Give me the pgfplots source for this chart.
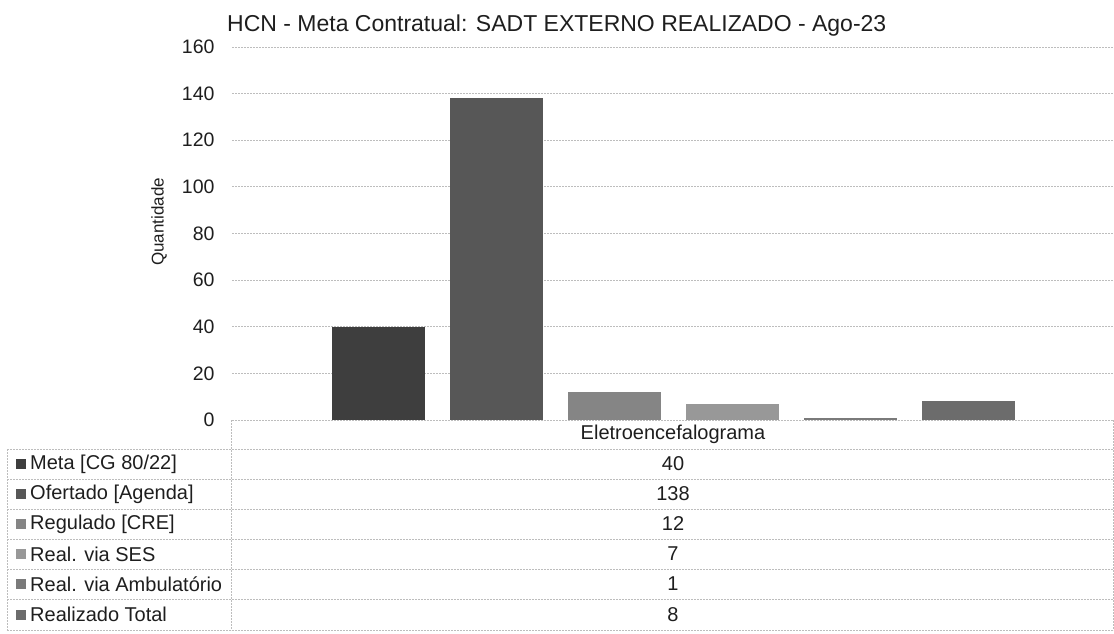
\documentclass[border=0pt]{standalone}
\usepackage{fontspec}
\setmainfont{Liberation Sans}
\usepackage{pgfplots}
\pgfplotsset{compat=1.18}

\definecolor{cMeta}{HTML}{3E3E3E}
\definecolor{cOfert}{HTML}{575757}
\definecolor{cReg}{HTML}{858585}
\definecolor{cSES}{HTML}{989898}
\definecolor{cAmb}{HTML}{7A7A7A}
\definecolor{cTot}{HTML}{6C6C6C}
\definecolor{cGrid}{HTML}{BDBDBD}
\definecolor{cInk}{HTML}{1E1E1E}

\newcommand{\tickfont}{\fontsize{19.5}{21}\selectfont}
\newcommand{\tabfont}{\fontsize{20}{22}\selectfont}

\begin{document}
\begin{tikzpicture}[x=1pt,y=1pt]
\begin{axis}[
  at={(232pt,213pt)}, anchor=south west,
  scale only axis, width=882pt, height=373pt,
  xmin=-1, xmax=1, ymin=0, ymax=160,
  ytick={0,20,...,160}, xtick=\empty,
  ymajorgrids,
  major grid style={draw=cGrid, line width=0.8pt, dash pattern=on 2pt off 1pt},
  axis line style={draw=none},
  tick style={draw=none},
  yticklabel style={font=\tickfont, text=cInk, xshift=-14pt},
  /pgf/number format/assume math mode=true,
  ybar, bar width=93pt,
  clip=false,
]
\addplot[draw=none, fill=cMeta,  bar shift=-295pt] coordinates {(0,40)};
\addplot[draw=none, fill=cOfert, bar shift=-177pt] coordinates {(0,138)};
\addplot[draw=none, fill=cReg,   bar shift=-59pt]  coordinates {(0,12)};
\addplot[draw=none, fill=cSES,   bar shift=59pt]   coordinates {(0,7)};
\addplot[draw=none, fill=cAmb,   bar shift=177pt]  coordinates {(0,1)};
\addplot[draw=none, fill=cTot,   bar shift=295pt]  coordinates {(0,8)};
\end{axis}

% title and y label
\node[anchor=base west, font=\fontsize{23}{25}\selectfont, text=cInk, inner sep=0pt] at (227,601) {HCN - Meta Contratual: SADT EXTERNO REALIZADO - Ago-23};
\node[rotate=90, font=\fontsize{17}{19}\selectfont, text=cInk] at (159,411) {Quantidade};

% data table
\begin{scope}[draw=cGrid, line width=0.8pt, dash pattern=on 2pt off 1pt]
  \foreach \yy in {184,154,124,94,64,34,3}
    \draw (7,\yy) -- (1113,\yy);
  \draw (7,184) -- (7,3);
  \draw (231,213) -- (231,3);
  \draw (1113,213) -- (1113,3);
\end{scope}
\node[font=\tabfont, text=cInk] at (673,198.5) {Eletroencefalograma};

\foreach \yc/\col/\name/\val in {
  169/cMeta/{Meta [CG 80/22]}/40,
  139/cOfert/{Ofertado [Agenda]}/138,
  109/cReg/{Regulado [CRE]}/12,
  79/cSES/{Real. via SES}/7,
  49/cAmb/{Real. via Ambulatório}/1,
  18.5/cTot/{Realizado Total}/8} {
  \fill[\col] (16,\yc-5) rectangle (26,\yc+5);
  \node[anchor=west, font=\tabfont, text=cInk, inner sep=0pt] at (30,\yc) {\name};
  \node[font=\tabfont, text=cInk] at (673,\yc) {\val};
}

\pgfresetboundingbox
\useasboundingbox (0,0) rectangle (1114,633);
\end{tikzpicture}
\end{document}
